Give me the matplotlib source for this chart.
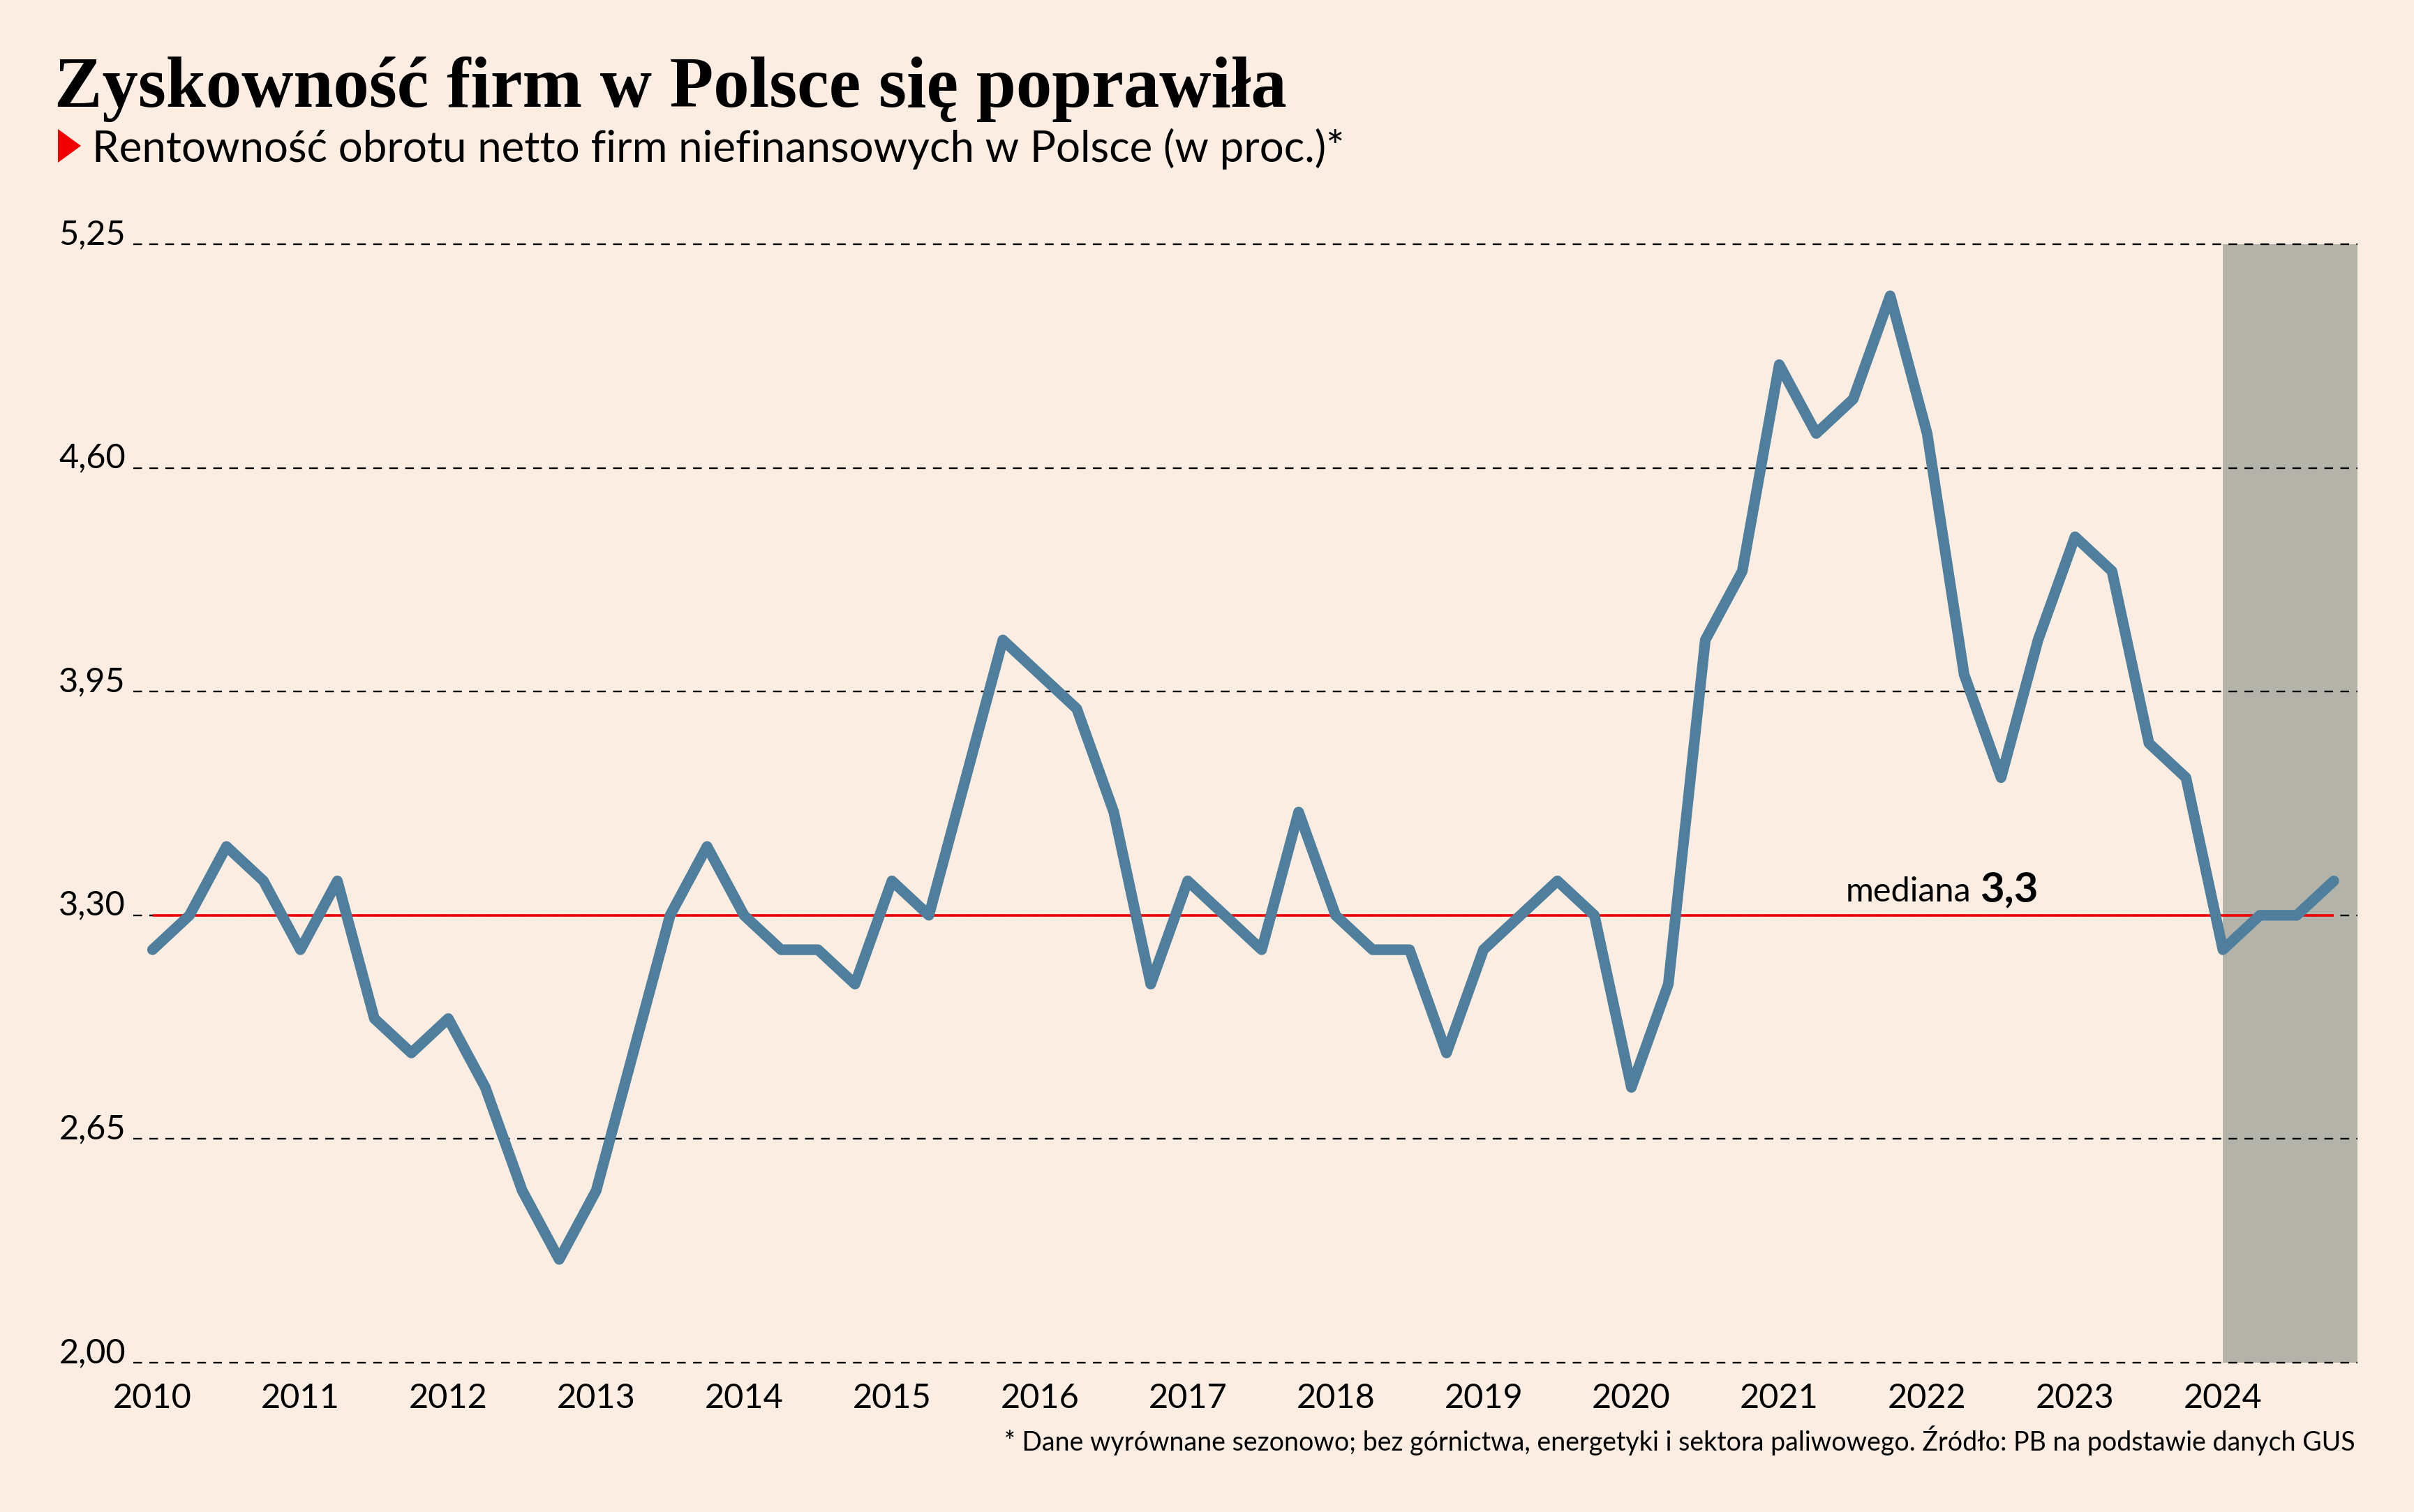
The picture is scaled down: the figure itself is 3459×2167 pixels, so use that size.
import matplotlib
matplotlib.use("Agg")
import matplotlib.pyplot as plt
from matplotlib.patches import Polygon

# ---- data ----
start_year = 2010
values = [3.2, 3.3, 3.5, 3.4,   # 2010
          3.2, 3.4, 3.0, 2.9,   # 2011
          3.0, 2.8, 2.5, 2.3,   # 2012
          2.5, 2.9, 3.3, 3.5,   # 2013
          3.3, 3.2, 3.2, 3.1,   # 2014
          3.4, 3.3, 3.7, 4.1,   # 2015
          4.0, 3.9, 3.6, 3.1,   # 2016
          3.4, 3.3, 3.2, 3.6,   # 2017
          3.3, 3.2, 3.2, 2.9,   # 2018
          3.2, 3.3, 3.4, 3.3,   # 2019
          2.8, 3.1, 4.1, 4.3,   # 2020
          4.9, 4.7, 4.8, 5.1,   # 2021
          4.7, 4.0, 3.7, 4.1,   # 2022
          4.4, 4.3, 3.8, 3.7,   # 2023
          3.2, 3.3, 3.3, 3.4]   # 2024
x_vals = [start_year + i * 0.25 for i in range(len(values))]
years = list(range(2010, 2025))
y_ticks = [2.00, 2.65, 3.30, 3.95, 4.60, 5.25]
y_tick_labels = ["2,00", "2,65", "3,30", "3,95", "4,60", "5,25"]
median_value = 3.3
median_label = "3,3"
shade_start = 2024

title = "Zyskowność firm w Polsce się poprawiła"
subtitle = "Rentowność obrotu netto firm niefinansowych w Polsce (w proc.)*"
footnote = ("* Dane wyrównane sezonowo; bez górnictwa, energetyki i sektora paliwowego. "
            "Źródło: PB na podstawie danych GUS")

# ---- style ----
BG = "#FBEDE1"
LINE = "#4F7F9D"
SHADE = "#B3B3AA"
RED = "#F00000"
plt.rcParams["lines.scale_dashes"] = False
plt.rcParams["font.family"] = ["Lato", "DejaVu Sans"]

W, H = 3459, 2167
DPI = 100
fig = plt.figure(figsize=(W / DPI, H / DPI), dpi=DPI, facecolor=BG)

ax_left, ax_right = 191 / W, 3378 / W
ax_bottom, ax_top = 1 - 1953 / H, 1 - 350 / H
ax = fig.add_axes([ax_left, ax_bottom, ax_right - ax_left, ax_top - ax_bottom])
ax.set_facecolor(BG)
xmin, xmax = 2009.87, 2024.91
ax.set_xlim(xmin, xmax)
ax.set_ylim(2.0, 5.25)
for s in ax.spines.values():
    s.set_visible(False)

# shaded region
ax.axvspan(shade_start, xmax, ymin=0, ymax=1, color=SHADE, zorder=1, lw=0)

# gridlines
for yv in y_ticks:
    ax.axhline(yv, color="black", lw=1.7, dashes=(9, 7.5), zorder=2, clip_on=False)

# median line
ax.plot([x_vals[0], x_vals[-1]], [median_value, median_value], color=RED, lw=2.6,
        zorder=3, solid_capstyle="butt")

# main line
ax.plot(x_vals, values, color=LINE, lw=11, zorder=4,
        solid_joinstyle="round", solid_capstyle="round")

# x ticks
ax.set_xticks(years)
ax.set_xticklabels([str(y) for y in years], fontsize=35, family=["Lato", "DejaVu Sans"])
ax.tick_params(axis="x", length=0, pad=21)
ax.set_yticks([])

# y labels (baseline on gridline)
for yv, lab in zip(y_ticks, y_tick_labels):
    ax.text(-11 / (3378 - 191), yv, lab, transform=ax.get_yaxis_transform(),
            ha="right", va="baseline", fontsize=35, color="black")

# title & subtitle
fig.text(78 / W, 1 - 153 / H, title, fontsize=74, fontweight="bold",
         family=["Liberation Serif", "DejaVu Serif"], ha="left", va="baseline", color="black")
tri = Polygon([[83 / W, 1 - 185 / H], [83 / W, 1 - 233 / H], [116 / W, 1 - 209 / H]],
              closed=True, transform=fig.transFigure, color="#F00000", lw=0)
fig.patches.append(tri)
fig.text(132 / W, 1 - 232 / H, subtitle, fontsize=44.5, ha="left", va="baseline", color="black")

# footnote
fig.text(3375 / W, 1 - 2079 / H, footnote, fontsize=27, ha="right", va="baseline", color="black")

# median annotation
renderer = fig.canvas.get_renderer()
t_num = fig.text(2920 / W, 1 - 1292 / H, median_label, fontsize=43, fontweight="bold",
                 ha="right", va="baseline", color="black")
bb = t_num.get_window_extent(renderer=renderer)
fig.text((bb.x0 - 12) / W, 1 - 1292 / H, "mediana", fontsize=35, ha="right",
         va="baseline", color="black")

fig.savefig("out.png", dpi=DPI, facecolor=BG)
